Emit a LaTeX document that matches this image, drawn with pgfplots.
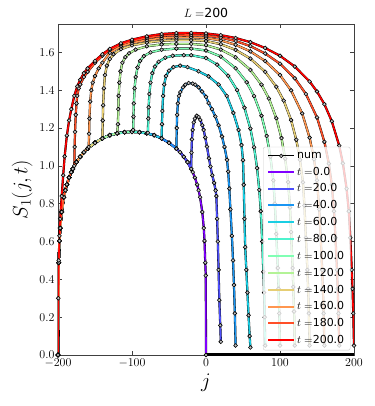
\documentclass[border=0pt]{standalone}
\usepackage[no-math]{fontspec}
\setmainfont{DejaVu Sans}
\usepackage{pgfplots}
\usepackage{pgfplotstable}
\pgfplotsset{compat=1.18}

\definecolor{cA}{RGB}{128,0,255}
\definecolor{cB}{RGB}{77,79,252}
\definecolor{cC}{RGB}{26,150,243}
\definecolor{cD}{RGB}{26,206,227}
\definecolor{cE}{RGB}{77,243,206}
\definecolor{cF}{RGB}{128,255,180}
\definecolor{cG}{RGB}{179,243,150}
\definecolor{cH}{RGB}{230,206,116}
\definecolor{cI}{RGB}{255,150,79}
\definecolor{cJ}{RGB}{255,79,40}
\definecolor{cK}{RGB}{255,0,0}

% S_1(j,t)
\pgfplotstableread{
j S
-200 0
-199 0.488
-198 0.603
-197 0.671
-195 0.756
-192 0.834
-190 0.871
-188 0.901
-185 0.938
-182 0.967
-180 0.984
-175 1.020
-170 1.048
-165 1.072
-160 1.091
-150 1.122
-140 1.145
-130 1.162
-120 1.172
-110 1.178
-100 1.180
-90 1.178
-80 1.172
-70 1.162
-60 1.145
-50 1.122
-40 1.091
-35 1.072
-30 1.048
-25 1.020
-20 0.984
-18 0.967
-15 0.938
-12 0.901
-10 0.871
-8 0.834
-5 0.756
-3 0.671
-2 0.603
-1 0.488
-0.3 0.42
0 0
}\tZero

\pgfplotstableread{
j S
-200 0
-199 0.488
-198 0.603
-197 0.671
-195 0.756
-192 0.834
-190 0.871
-188 0.901
-185 0.938
-182 0.967
-180 0.984
-175 1.020
-170 1.048
-165 1.072
-160 1.091
-150 1.122
-140 1.145
-130 1.162
-120 1.172
-110 1.178
-100 1.180
-90 1.178
-80 1.172
-70 1.162
-60 1.145
-50 1.122
-40 1.091
-35 1.072
-30 1.048
-25 1.020
-20 0.984
-19.6 1.07
-19 1.14
-18 1.19
-16.5 1.23
-15 1.25
-12.5 1.265
-10 1.258
-7.7 1.243
-5 1.215
-3.2 1.19
-1 1.15
1.3 1.102
4 1.04
6 0.996
8.5 0.95
11 0.91
13 0.87
14 0.84
15 0.72
16 0.6
17 0.45
18 0.29
19.3 0.157
20 0.07
}\tTwenty

\pgfplotstableread{
j S
-200 0
-199 0.488
-198 0.603
-197 0.671
-195 0.756
-192 0.834
-190 0.871
-188 0.901
-185 0.938
-182 0.967
-180 0.984
-175 1.020
-170 1.048
-165 1.072
-160 1.091
-150 1.122
-140 1.145
-130 1.162
-120 1.172
-110 1.178
-100 1.180
-90 1.178
-80 1.172
-70 1.162
-60 1.145
-50 1.122
-40 1.091
-39.5 1.2
-39 1.27
-38 1.33
-36.5 1.37
-34.7 1.39
-31 1.415
-28 1.429
-23.5 1.438
-18 1.435
-14.5 1.429
-10 1.415
-5.4 1.393
0 1.365
3.5 1.332
8 1.3
12.6 1.261
17 1.215
21.6 1.155
25 1.1
28.4 1.032
30 0.97
31.5 0.88
33 0.77
35 0.63
36.5 0.5
37.8 0.37
39 0.22
40 0.05
}\tForty

\pgfplotstableread{
j S
-200 0
-199 0.488
-198 0.603
-197 0.671
-195 0.756
-192 0.834
-190 0.871
-188 0.901
-185 0.938
-182 0.967
-180 0.984
-175 1.020
-170 1.048
-165 1.072
-160 1.091
-150 1.122
-140 1.145
-130 1.162
-120 1.172
-110 1.178
-100 1.180
-90 1.178
-80 1.172
-70 1.162
-60 1.145
-59.5 1.22
-59 1.29
-58 1.37
-56.5 1.43
-54 1.475
-50 1.503
-44 1.522
-35 1.53
-25 1.522
-10 1.50
3.5 1.473
17 1.43
28 1.37
37 1.28
44 1.19
48 1.11
50 1.03
51 0.9
52 0.72
53 0.57
54.5 0.45
56 0.33
57.5 0.21
59 0.1
60 0.04
}\tSixty

\pgfplotstableread{
j S
-200 0
-199 0.488
-198 0.603
-197 0.671
-195 0.756
-192 0.834
-190 0.871
-188 0.901
-185 0.938
-182 0.967
-180 0.984
-175 1.020
-170 1.048
-165 1.072
-160 1.091
-150 1.122
-140 1.145
-130 1.162
-120 1.172
-110 1.178
-100 1.180
-90 1.178
-80 1.172
-78.5 1.175
-78 1.25
-77.5 1.31
-76.5 1.38
-75 1.44
-72.5 1.49
-69 1.525
-64 1.55
-55 1.572
-45 1.582
-30 1.585
-20 1.585
0 1.57
15 1.535
30 1.476
42 1.401
52 1.307
60 1.197
65 1.098
69 0.988
72 0.873
74 0.76
76 0.6
77.5 0.44
78.5 0.33
79.3 0.2
80 0.05
}\tEighty

\pgfplotstableread{
j S
-200 0
-199 0.488
-198 0.603
-197 0.671
-195 0.756
-192 0.834
-190 0.871
-188 0.901
-185 0.938
-182 0.967
-180 0.984
-175 1.020
-170 1.048
-165 1.072
-160 1.091
-150 1.122
-140 1.145
-130 1.162
-120 1.172
-110 1.178
-100 1.180
-98.5 1.19
-98 1.26
-97.5 1.33
-96.5 1.41
-95 1.47
-92.5 1.52
-89 1.555
-84 1.58
-75 1.6
-60 1.614
-40 1.62
-20 1.62
0 1.61
20 1.578
40 1.516
55 1.442
65 1.369
75 1.265
82 1.158
87 1.049
91 0.923
93 0.8
95 0.64
97 0.46
98 0.35
99 0.22
100 0.05
}\tHundred

\pgfplotstableread{
j S
-200 0
-199 0.488
-198 0.603
-197 0.671
-195 0.756
-192 0.834
-190 0.871
-188 0.901
-185 0.938
-182 0.967
-180 0.984
-175 1.020
-170 1.048
-165 1.072
-160 1.091
-150 1.122
-140 1.145
-130 1.162
-120 1.172
-119 1.22
-118.5 1.30
-118 1.37
-117 1.44
-115.5 1.50
-113 1.545
-109 1.575
-104 1.595
-95 1.615
-80 1.632
-60 1.642
-40 1.645
-20 1.645
0 1.638
20 1.615
40 1.574
60 1.507
75 1.429
85 1.356
95 1.252
102 1.147
107 1.038
111 0.914
113.5 0.78
115 0.65
117 0.46
118 0.36
119 0.23
120 0.05
}\tOneTwenty

\pgfplotstableread{
j S
-200 0
-199 0.488
-198 0.603
-197 0.671
-195 0.756
-192 0.834
-190 0.871
-188 0.901
-185 0.938
-182 0.967
-180 0.984
-175 1.020
-170 1.048
-165 1.072
-160 1.091
-150 1.122
-140 1.145
-139.5 1.24
-139 1.32
-138 1.41
-136.5 1.48
-134 1.53
-130 1.565
-125 1.59
-115 1.617
-100 1.637
-80 1.652
-60 1.661
-40 1.665
-20 1.665
0 1.66
20 1.643
40 1.613
60 1.567
80 1.497
95 1.418
105 1.345
115 1.242
122 1.138
127 1.032
131 0.913
133 0.79
135 0.62
137 0.45
138 0.35
139 0.22
140 0.05
}\tOneForty

\pgfplotstableread{
j S
-200 0
-199 0.488
-198 0.603
-197 0.671
-195 0.756
-192 0.834
-190 0.871
-188 0.901
-185 0.938
-182 0.967
-180 0.984
-175 1.020
-170 1.048
-165 1.072
-160 1.091
-158.5 1.10
-158 1.17
-157.5 1.25
-156.5 1.34
-155 1.40
-153 1.44
-150 1.475
-145 1.515
-140 1.545
-130 1.598
-115 1.632
-100 1.65
-80 1.665
-60 1.675
-40 1.679
-20 1.68
0 1.676
20 1.663
40 1.64
60 1.605
80 1.554
100 1.48
115 1.399
130 1.277
140 1.149
146 1.035
150 0.923
153 0.77
155 0.62
157 0.45
158 0.35
159 0.22
160 0.05
}\tOneSixty

\pgfplotstableread{
j S
-200 0
-199 0.488
-198 0.603
-197 0.671
-195 0.756
-192 0.834
-190 0.871
-188 0.901
-185 0.938
-182 0.967
-180 0.984
-178 1.0
-177.5 1.10
-177 1.18
-176 1.27
-175 1.33
-174 1.37
-172 1.41
-170 1.43
-165 1.47
-160 1.497
-150 1.545
-140 1.582
-130 1.612
-115 1.642
-100 1.66
-80 1.677
-60 1.687
-40 1.691
-20 1.692
0 1.689
20 1.678
40 1.66
60 1.633
80 1.594
100 1.54
120 1.463
135 1.38
150 1.256
160 1.127
166 1.012
170 0.90
173 0.76
175 0.62
177 0.45
178 0.35
179 0.22
180 0.05
}\tOneEighty

\pgfplotstableread{
j S
-200 0
-199.6 0.3
-199 0.5
-198 0.63
-197 0.72
-195 0.84
-193 0.95
-191 1.05
-188 1.16
-185 1.24
-182 1.30
-178 1.37
-174 1.42
-170 1.455
-165 1.49
-160 1.515
-150 1.555
-140 1.59
-130 1.618
-115 1.648
-100 1.667
-80 1.685
-60 1.697
-40 1.702
-20 1.703
0 1.70
20 1.691
40 1.676
60 1.654
80 1.623
100 1.582
120 1.525
140 1.446
150 1.393
160 1.326
170 1.236
180 1.107
185 1.013
190 0.879
193 0.76
195 0.62
197 0.45
198 0.35
199 0.22
200 0.05
}\tTwoHundred

\pgfplotsset{
  num/.style={black, line width=2.2pt, mark=*, mark size=1.9pt,
    mark options={solid, fill=gray!45, draw=black, line width=0.6pt}},
  ana/.style={line width=1.6pt, legend image post style={line width=2pt}},
}

\begin{document}
\begin{tikzpicture}
\begin{axis}[
    name=ax,
    scale only axis,
    width=296pt, height=331pt,
    xmin=-200, xmax=200, ymin=0, ymax=1.75,
    xtick={-200,-100,0,100,200},
    ytick={0,0.2,0.4,0.6,0.8,1.0,1.2,1.4,1.6},
    yticklabel style={/pgf/number format/.cd, fixed, fixed zerofill, precision=1},
    tick label style={font=\fontsize{12}{14}\selectfont},
    tick align=inside,
    major tick length=4pt,
    every tick/.style={black!75},
    axis line style={black!75},
    xlabel={$j$},
    ylabel={$S_1(j,t)$},
    label style={font=\fontsize{20}{24}\selectfont},
    title={$L=$200},
    title style={font=\fontsize{12.5}{14}\selectfont, yshift=-3pt},
    legend cell align=left,
    legend style={
        at={(rel axis cs:0.988,0.014)}, anchor=south east,
        font=\fontsize{11}{13}\selectfont,
        fill=white, fill opacity=0.8, draw opacity=1, text opacity=1,
        draw=black!20, rounded corners=2pt, row sep=3.2pt,
        inner xsep=4pt, inner ysep=3pt,
    },
    legend image code/.code={
        \draw[mark repeat=2, mark phase=2, #1, draw opacity=1]
            plot coordinates {(0pt,0pt) (13pt,0pt) (26pt,0pt)};
    },
]
% numerics
\addplot[num, legend image post style={line width=0.9pt}] table[x=j, y=S] {\tZero};
\addplot[num, forget plot] table[x=j, y=S] {\tTwenty};
\addplot[num, forget plot] table[x=j, y=S] {\tForty};
\addplot[num, forget plot] table[x=j, y=S] {\tSixty};
\addplot[num, forget plot] table[x=j, y=S] {\tEighty};
\addplot[num, forget plot] table[x=j, y=S] {\tHundred};
\addplot[num, forget plot] table[x=j, y=S] {\tOneTwenty};
\addplot[num, forget plot] table[x=j, y=S] {\tOneForty};
\addplot[num, forget plot] table[x=j, y=S] {\tOneSixty};
\addplot[num, forget plot] table[x=j, y=S] {\tOneEighty};
\addplot[num, forget plot] table[x=j, y=S] {\tTwoHundred};

% analytic curves
\addplot[ana, cA] table[x=j, y=S] {\tZero};
\addplot[ana, cB] table[x=j, y=S] {\tTwenty};
\addplot[ana, cC] table[x=j, y=S] {\tForty};
\addplot[ana, cD] table[x=j, y=S] {\tSixty};
\addplot[ana, cE] table[x=j, y=S] {\tEighty};
\addplot[ana, cF] table[x=j, y=S] {\tHundred};
\addplot[ana, cG] table[x=j, y=S] {\tOneTwenty};
\addplot[ana, cH] table[x=j, y=S] {\tOneForty};
\addplot[ana, cI] table[x=j, y=S] {\tOneSixty};
\addplot[ana, cJ] table[x=j, y=S] {\tOneEighty};
\addplot[ana, cK] table[x=j, y=S] {\tTwoHundred};

% S = 0 beyond the front
\addplot[black, line width=4pt, forget plot] coordinates {(0,0) (100,0) (200,0)};

\legend{num, $t=$0.0, $t=$20.0, $t=$40.0, $t=$60.0, $t=$80.0,
        $t=$100.0, $t=$120.0, $t=$140.0, $t=$160.0, $t=$180.0, $t=$200.0}
\end{axis}
\pgfresetboundingbox
\path ([xshift=-58pt, yshift=-51pt]ax.south west)
      rectangle ([xshift=20pt, yshift=24pt]ax.north east);
\end{tikzpicture}
\end{document}
